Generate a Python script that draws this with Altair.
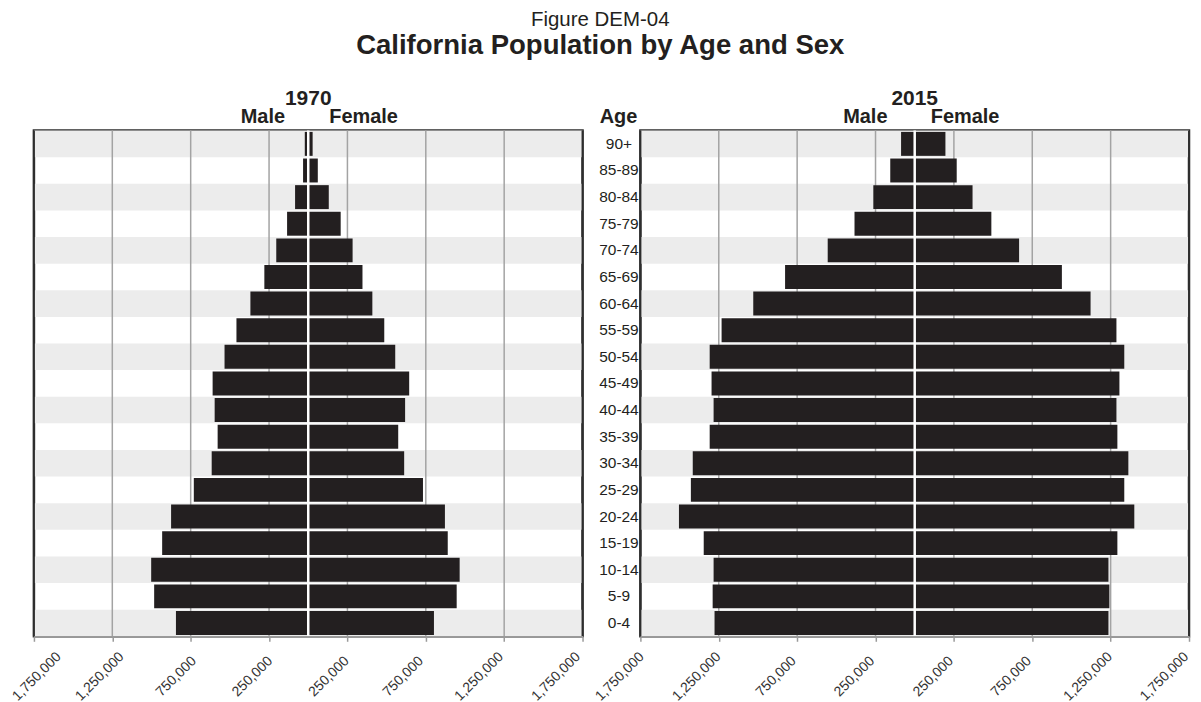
import altair as alt
import pandas as pd

# ---- data ----
ages = ["0-4", "5-9", "10-14", "15-19", "20-24", "25-29", "30-34", "35-39", "40-44",
        "45-49", "50-54", "55-59", "60-64", "65-69", "70-74", "75-79", "80-84", "85-89", "90+"]

male_1970 = [844000, 983000, 1002000, 932000, 875000, 730000, 616000, 578000, 597000,
             610000, 534000, 458000, 369000, 280000, 204000, 135000, 84000, 33000, 22000]
female_1970 = [802000, 947000, 966000, 890000, 872000, 732000, 612000, 574000, 618000,
               644000, 555000, 485000, 409000, 346000, 283000, 207000, 131000, 61000, 28000]
male_2015 = [1277000, 1289000, 1283000, 1346000, 1504000, 1428000, 1416000, 1308000, 1283000,
             1296000, 1308000, 1232000, 1030000, 827000, 555000, 384000, 264000, 156000, 87000]
female_2015 = [1236000, 1242000, 1236000, 1293000, 1401000, 1337000, 1363000, 1293000, 1287000,
               1306000, 1337000, 1287000, 1122000, 939000, 666000, 489000, 369000, 268000, 196000]

years = ["1970", "2015"]
sexes = ["Male", "Female"]
grid_values = [-1250000, -750000, -250000, 250000, 750000, 1250000]
tick_values = [-1750000, -1250000, -750000, -250000, 250000, 750000, 1250000, 1750000]
x_limit = 1750000

FONT = "Liberation Sans"
BAR = "#231f20"
FRAME = "#2e2e2e"
W, H = 550, 507
MID_W = 58

# label placement offsets along the axis (pixels), per tick, as in the reference
left_offsets = [2.5, -13, -15, -17, -19, -23, -25.5, -27]
right_offsets = [-21, -22.5, -21.5, -21.5, -21, -21.5, -23, -25]

order = ages[::-1]  # top to bottom
xs = alt.Scale(domain=[-x_limit, x_limit], nice=False, zero=False)
ys = alt.Scale(domain=order, paddingInner=0, paddingOuter=0)


def make_axis(offsets):
    cond = [{"test": f"datum.value == {v}", "value": o} for v, o in zip(tick_values, offsets)]
    return alt.Axis(values=tick_values, labelExpr="format(abs(datum.value), ',')",
                    grid=False, title=None, labelAngle=-45, labelFontSize=14, labelFont=FONT,
                    labelColor="#333333", labelAlign="center", labelBaseline="middle",
                    labelPadding=35, labelOffset={"condition": cond, "value": -20},
                    tickSize=5, tickColor="#9a9a9a", tickWidth=1.5,
                    domainColor="#9a9a9a", domainWidth=1.5, zindex=1,
                    labelOverlap=False, labelFlush=False, labelBound=False)


def text_mark(txt, x, y, size, weight="bold"):
    return alt.Chart(pd.DataFrame({"t": [txt]})).mark_text(
        font=FONT, fontSize=size, fontWeight=weight, color=BAR, baseline="alphabetic"
    ).encode(text="t:N", x=alt.value(x), y=alt.value(y))


def pyramid(year, male, female, male_dx, female_dx, offsets):
    ax = make_axis(offsets)

    def X(field):
        return alt.X(field, scale=xs, axis=ax)

    rows = []
    for a, m, f in zip(ages, male, female):
        rows.append({"age": a, "sex": "Male", "value": -m, "zero": 0})
        rows.append({"age": a, "sex": "Female", "value": f, "zero": 0})
    df = pd.DataFrame(rows)
    stripes = pd.DataFrame({"age": order[::2], "lo": -x_limit, "hi": x_limit})
    Y = alt.Y("age:N", scale=ys, axis=None)

    stripe = alt.Chart(stripes).mark_bar(color="#ececec").encode(
        x=X("lo:Q"), x2="hi:Q", y=Y)
    grid = alt.Chart(pd.DataFrame({"v": grid_values})).mark_rule(
        color="#a3a3a3", strokeWidth=1.5).encode(x=X("v:Q"))
    bars = alt.Chart(df).mark_bar(color=BAR, size=24).encode(
        x=X("value:Q"), x2="zero:Q", y=Y)
    center = alt.Chart(pd.DataFrame({"v": [0]})).mark_rule(
        color="white", strokeWidth=2.5).encode(x=X("v:Q"))
    sides = alt.Chart(pd.DataFrame({"v": [-x_limit, x_limit]})).mark_rule(
        color=FRAME, strokeWidth=2).encode(x=X("v:Q"))
    ytitle = text_mark(year, W / 2, -26, 21)
    mlab = text_mark(sexes[0], W / 2 + male_dx, -8, 20)
    flab = text_mark(sexes[1], W / 2 + female_dx, -8, 20)
    return alt.layer(stripe, grid, bars, center, sides, ytitle, mlab, flab).properties(
        width=W, height=H,
        view=alt.ViewBackground(stroke=FRAME, strokeWidth=2.5))


left = pyramid(years[0], male_1970, female_1970, -45.5, 55.5, left_offsets)
right = pyramid(years[1], male_2015, female_2015, -49.5, 50.5, right_offsets)

mid_labels = alt.Chart(pd.DataFrame({"age": ages})).mark_text(
    font=FONT, fontSize=15.5, align="center", color=BAR
).encode(x=alt.value(36.5), y=alt.Y("age:N", scale=ys, axis=None), text="age:N")
mid_head = alt.Chart(pd.DataFrame({"t": ["Age"]})).mark_text(
    font=FONT, fontSize=20, fontWeight="bold", align="center", color=BAR, baseline="alphabetic"
).encode(x=alt.value(36), y=alt.value(-8), text="t:N")
mid = alt.layer(mid_labels, mid_head).properties(
    width=MID_W, height=H, view=alt.ViewBackground(strokeOpacity=0))

chart = alt.hconcat(left, mid, right, spacing=0, bounds="flush").properties(
    title=alt.TitleParams(
        text="Figure DEM-04", subtitle="California Population by Age and Sex",
        font=FONT, fontSize=20.5, fontWeight="normal", color=BAR,
        subtitleFont=FONT, subtitleFontSize=27.6, subtitleFontWeight="bold",
        subtitleColor=BAR, subtitlePadding=1, anchor="middle", offset=27),
    padding={"left": 0, "top": 1, "right": 0, "bottom": 0},
    background="white",
)

chart.save("out.html", embed_options={"renderer": "svg", "actions": False})
